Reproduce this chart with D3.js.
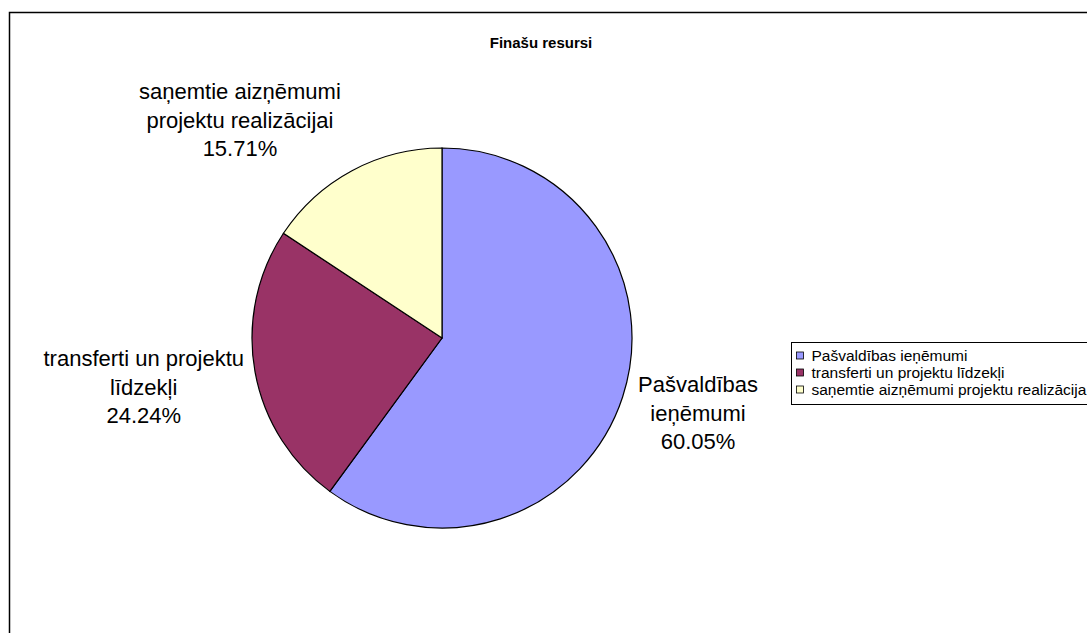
<!DOCTYPE html>
<html>
<head>
<meta charset="utf-8">
<script src="https://cdn.jsdelivr.net/npm/d3@7"></script>
<style>
  html, body { margin: 0; padding: 0; background: #fff; }
  svg { display: block; font-family: "Liberation Sans", Arial, sans-serif; }
</style>
</head>
<body>
<svg id="chart"></svg>
<script>
const categories = ["Pašvaldības ieņēmumi", "transferti un projektu līdzekļi", "saņemtie aizņēmumi projektu realizācijai"];
const shares = [60.05, 24.24, 15.71];
const labelLines = [["Pašvaldības", "ieņēmumi"], ["transferti un projektu", "līdzekļi"], ["saņemtie aizņēmumi", "projektu realizācijai"]];
const legendLabels = ["Pašvaldības ieņēmumi", "transferti un projektu līdzekļi", "saņemtie aizņēmumi projektu realizācija"];
const colors = ["#9999ff", "#993366", "#ffffcc"];

const width = 1087, height = 633;
const svg = d3.select("#chart").attr("width", width).attr("height", height);

// chart frame (runs off the right and bottom edges)
svg.append("rect").attr("x", 9.5).attr("y", 12.5).attr("width", 1120).attr("height", 700)
    .attr("fill", "#fff").attr("stroke", "#000").attr("stroke-width", 1.5);

svg.append("text").attr("x", 541).attr("y", 48).attr("text-anchor", "middle")
    .attr("font-size", 15).attr("font-weight", "bold").text("Finašu resursi");

const cx = 442, cy = 338, r = 190;
const pie = d3.pie().sort(null).value(d => d);
const arcs = pie(shares);
const arc = d3.arc().innerRadius(0).outerRadius(r);

const g = svg.append("g").attr("transform", `translate(${cx},${cy})`);
g.selectAll("path").data(arcs).enter().append("path")
    .attr("d", arc)
    .attr("fill", (d, i) => colors[i])
    .attr("stroke", "#000").attr("stroke-width", 1.2);

// data labels placed outside, along each slice's mid angle
const labelRadius = [262, 300, 245];
const labelNudge = [[7, -6], [-3, -4], [-86, -2]];
arcs.forEach((d, i) => {
    const a = (d.startAngle + d.endAngle) / 2;
    const x = Math.sin(a) * labelRadius[i] + labelNudge[i][0];
    const y = -Math.cos(a) * labelRadius[i] + labelNudge[i][1];
    const lines = labelLines[i].concat([shares[i].toFixed(2) + "%"]);
    const t = g.append("text").attr("text-anchor", "middle").attr("font-size", 22).attr("fill", "#000");
    lines.forEach((s, j) => {
        t.append("tspan").attr("x", x).attr("y", y + (j - (lines.length - 1) / 2) * 28.5 + 7.5).text(s);
    });
});

// legend
const lg = svg.append("g").attr("transform", "translate(791.5,342.5)");
lg.append("rect").attr("width", 320).attr("height", 62).attr("fill", "#fff").attr("stroke", "#000");
const ly = d3.scalePoint().domain(categories).range([13, 47]);
categories.forEach((c, i) => {
    lg.append("rect").attr("x", 5).attr("y", ly(c) - 3.5).attr("width", 7).attr("height", 7)
        .attr("fill", colors[i]).attr("stroke", "#000").attr("stroke-width", 0.8);
    lg.append("text").attr("x", 20).attr("y", ly(c) + 5).attr("font-size", 15.5).text(legendLabels[i]);
});
</script>
</body>
</html>
